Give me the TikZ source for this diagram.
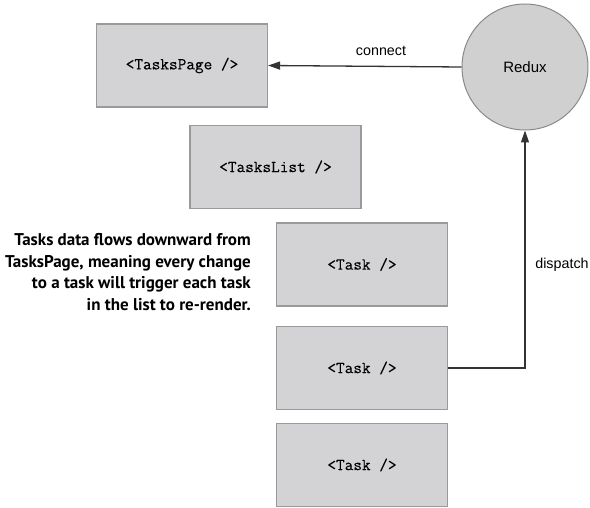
\documentclass[tikz,border=0pt]{standalone}
\usepackage{fontspec}
\setmainfont{Liberation Sans}
\newfontfamily\monof[FakeBold=0.3]{Latin Modern Mono}
\newfontfamily\notef{PT Sans}
\usetikzlibrary{arrows.meta}
\definecolor{boxfill}{HTML}{D3D3D5}
\definecolor{boxline}{HTML}{9A9A9A}
\definecolor{circfill}{HTML}{D0D0D0}
\definecolor{circline}{HTML}{8A8A8A}
\definecolor{wire}{HTML}{333333}
\tikzset{
  comp/.style={draw=boxline, line width=1.2pt, fill=boxfill, minimum width=171pt, minimum height=83pt, inner sep=0pt, font=\monof\fontsize{16.8}{18}\selectfont},
  store/.style={circle, draw=circline, line width=1pt, fill=circfill, minimum size=126pt, inner sep=0pt, font=\fontsize{15}{17}\selectfont},
  wirestyle/.style={draw=wire, line width=1.3pt},
  lbl/.style={font=\fontsize{14.3}{16}\selectfont, inner sep=0pt},
}
\begin{document}
\begin{tikzpicture}[x=1pt,y=-1pt]
\useasboundingbox (0,0) rectangle (590,508);
\node[comp] (page) at (182,65.5) {<TasksPage />};
\node[comp] (list) at (275.5,167) {<TasksList />};
\node[comp] (t1) at (362,264.5) {<Task />};
\node[comp] (t2) at (362,368) {<Task />};
\node[comp] (t3) at (362,465) {<Task />};
\node[store] (redux) at (525,67) {Redux};
\draw[wirestyle, -{Triangle[length=12pt,width=8pt]}] (redux.west) -- (page.east);
\node[lbl] (conn) at (381,51) {connect};
\coordinate (corner) at (525,368);
\draw[wirestyle, -{Triangle[length=12pt,width=8pt]}] (t2.east) -- (corner) -- (redux.south);
\node[lbl] (disp) at (562,265) {dispatch};
\node[align=right, anchor=east, inner sep=0pt, font=\notef\bfseries\fontsize{17}{21.5}\selectfont] (note) at (251,272)
 {Tasks data flows downward from\\TasksPage, meaning every change\\to a task will trigger each task\\in the list to re-render.};
\end{tikzpicture}
\end{document}
